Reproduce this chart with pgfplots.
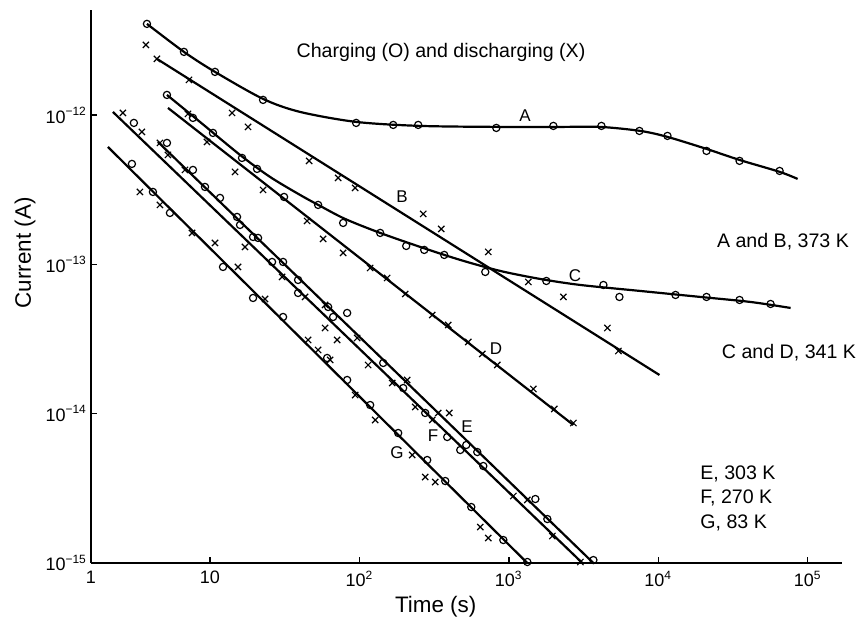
\documentclass[border=0pt]{standalone}
\usepackage{fontspec}
\setmainfont{Liberation Sans}
\usepackage{pgfplots}
\pgfplotsset{compat=1.18}
\begin{document}
\begin{tikzpicture}
\begin{axis}[
  name=ax,
  scale only axis,
  width=375.5pt, height=276.5pt,
  xmode=log, ymode=log,
  xmin=1.598, xmax=169800,
  ymin=1e-15, ymax=5.06e-12,
  axis x line*=bottom, axis y line*=left,
  axis line style={line width=0.8pt,-},
  every tick/.style={line width=0.7pt, black},
  major tick length=3pt,
  xminorticks=false, yminorticks=false,
  xtick={10,100,1000,10000,100000},
  xticklabels={10,10\textsuperscript{2},10\textsuperscript{3},10\textsuperscript{4},10\textsuperscript{5}},
  extra x ticks={1.598}, extra x tick labels={1},
  extra x tick style={major tick length=0pt},
  ytick={1e-15,1e-14,1e-13,1e-12},
  yticklabels={10\textsuperscript{−15},10\textsuperscript{−14},10\textsuperscript{−13},10\textsuperscript{−12}},
  ticklabel style={font=\fontsize{9}{10}\selectfont},
  yticklabel style={inner sep=1.5pt},
  xlabel={Time (s)}, ylabel={Current (A)},
  label style={font=\fontsize{11.2}{13}\selectfont},
  xlabel style={at={(axis description cs:0.459,-0.0796)}, anchor=center},
  ylabel style={at={(axis description cs:-0.0879,0.561)}, anchor=center},
  clip=false,
  line width=1.1pt,
  circ/.style={only marks, mark=o, mark size=1.8pt, mark options={line width=0.6pt}, black},
  cross/.style={only marks, mark=x, mark size=2.2pt, mark options={line width=0.6pt}, black},
  curve/.style={no marks, black, line width=1.1pt},
]
% Curve A (charging, 373 K)
\addplot[curve, smooth] coordinates {(3.785,4.086e-12) (6.696,2.653e-12) (10.80,1.949e-12) (22.65,1.285e-12) (40.09,1.051e-12) (95.1,9.01e-13) (255.3,8.47e-13) (877.0,8.34e-13) (2213,8.34e-13) (4102,8.34e-13) (7603,7.84e-13) (11533,7.15e-13) (21050,5.94e-13) (35030,5.01e-13) (64940,4.17e-13) (85680,3.74e-13)};
\addplot[circ] coordinates {(3.785,4.086e-12) (6.696,2.653e-12) (10.80,1.949e-12) (22.65,1.265e-12) (95.1,8.87e-13) (168.3,8.60e-13) (247.4,8.60e-13) (824.6,8.21e-13) (1987,8.47e-13) (4166,8.47e-13) (7485,7.84e-13) (11533,7.26e-13) (21050,5.76e-13) (35030,4.94e-13) (64940,4.23e-13)};
% Curve B (discharging, 373 K)
\addplot[curve] coordinates {(4.415,2.381e-12) (10190,1.818e-14)};
\addplot[cross] coordinates {(3.725,2.955e-12) (4.415,2.381e-12) (7.233,1.722e-12) (14.05,1.035e-12) (17.97,8.341e-13) (46.06,4.936e-13) (72.04,3.797e-13) (93.65,3.254e-13) (267.4,2.180e-13) (352.9,1.729e-13) (728.7,1.213e-13) (2318,6.057e-14) (4570,3.754e-14) (5415,2.633e-14)};
% Curve C (charging, 341 K)
\addplot[curve, smooth] coordinates {(5.151,1.366e-12) (8.570,9.010e-13) (15.89,5.415e-13) (25.23,3.857e-13) (40.09,2.921e-13) (54.58,2.466e-13) (80.26,2.017e-13) (137.7,1.626e-13) (255.3,1.310e-13) (473.2,1.072e-13) (877.0,9.045e-14) (1626,7.992e-14) (3013,7.287e-14) (7603,6.643e-14) (19190,6.057e-14) (41500,5.606e-14) (76910,5.111e-14)};
\addplot[circ] coordinates {(5.151,1.366e-12) (7.692,9.583e-13) (10.47,7.603e-13) (16.38,5.169e-13) (20.65,4.363e-13) (52.92,2.504e-13) (77.82,1.897e-13) (137.7,1.626e-13) (205.7,1.330e-13) (271.5,1.251e-13) (369.6,1.158e-13) (695.8,8.907e-14) (1783,7.751e-14) (4296,7.287e-14) (5499,6.057e-14) (13050,6.246e-14) (21050,6.057e-14) (35030,5.781e-14) (56490,5.436e-14)};
% Curve D (discharging, 341 K)
\addplot[curve] coordinates {(5.232,1.118e-12) (2705,8.407e-15)};
\addplot[cross] coordinates {(7.122,1.019e-12) (9.548,6.618e-13) (14.71,4.166e-13) (22.65,3.156e-13) (44.66,1.956e-13) (57.16,1.482e-13) (77.82,1.194e-13) (118.0,9.473e-14) (153.4,8.119e-14) (202.5,6.343e-14) (307.2,4.587e-14) (393.2,3.932e-14) (535.3,3.025e-14) (664.3,2.514e-14) (837.4,2.121e-14) (1459,1.465e-14) (2017,1.076e-14) (2705,8.670e-15) (1351,7.634e-14)};
\addplot[circ] coordinates {(31.32,2.832e-13)};
% Curves E, F, G
\addplot[curve] coordinates {(4.481,6.618e-13) (3682,1e-15)};
\addplot[curve] coordinates {(2.239,1.051e-12) (3107,1e-15)};
\addplot[curve] coordinates {(2.073,6.127e-13) (1330,1e-15)};
\addplot[circ] coordinates {(3.095,8.87e-13) (5.151,6.516e-13) (3.002,4.713e-13) (4.151,3.059e-13) (5.395,2.213e-13) (7.692,4.296e-13) (9.259,3.305e-13) (11.67,2.790e-13) (15.17,2.081e-13) (15.89,1.839e-13) (19.42,1.528e-13) (20.97,1.505e-13) (12.22,9.620e-14) (26.03,1.039e-13) (30.84,1.039e-13) (38.87,7.873e-14) (38.87,6.442e-14) (61.75,5.190e-14) (66.69,4.448e-14) (82.78,4.732e-14) (19.42,5.964e-14) (30.84,4.448e-14) (60.80,2.363e-14) (144.3,2.188e-14) (82.78,1.683e-14) (118.0,1.144e-14) (181.8,7.430e-15) (196.4,1.487e-14) (275.7,1.012e-14) (284.3,4.898e-15) (375.4,3.543e-15) (560.7,2.372e-15) (918.9,1.426e-15) (1330,1.016e-15) (387.1,6.986e-15) (473.2,5.716e-15) (519.0,6.175e-15) (615.0,5.541e-15) (674.7,4.466e-15) (1505,2.684e-15) (1811,1.971e-15) (3682,1.047e-15)};
\addplot[cross] coordinates {(2.613,1.035e-12) (3.503,7.722e-13) (4.624,6.516e-13) (5.232,5.415e-13) (3.396,3.059e-13) (4.624,2.504e-13) (7.576,1.626e-13) (10.80,1.393e-13) (15.40,9.620e-14) (6.800,4.296e-13) (17.16,1.310e-13) (23.36,5.872e-14) (30.37,8.245e-14) (43.30,6.057e-14) (58.95,5.353e-14) (58.95,3.754e-14) (70.94,3.120e-14) (96.58,3.217e-14) (45.36,3.120e-14) (52.92,2.674e-14) (63.68,2.292e-14) (114.4,2.121e-14) (93.65,1.335e-14) (127.5,9.080e-15) (165.8,1.607e-14) (208.9,1.683e-14) (236.3,1.110e-14) (307.2,9.080e-15) (337.0,1.012e-14) (399.3,1.012e-14) (225.6,5.292e-15) (275.7,3.768e-15) (321.7,3.489e-15) (644.2,1.742e-15) (728.7,1.471e-15) (1072,2.811e-15) (1330,2.643e-15) (1956,1.517e-15) (3013,1.016e-15)};
\end{axis}
\begin{scope}[shift={(ax.south west)}, xshift=-45.5pt, yshift=281.5pt, x=0.5pt, y=-0.5pt]
  \pgfresetboundingbox
  \path[use as bounding box] (0,0) rectangle (859,623);
  \begin{scope}[every node/.style={font=\fontsize{9.8}{12.25}\selectfont, inner sep=0pt}]
    \node at (441,52) {Charging (O) and discharging (X)};
    \node at (783,242) {A and B, 373 K};
    \node at (789,353) {C and D, 341 K};
    \node[anchor=west, align=left] at (700,498) {E, 303 K\\F, 270 K\\G, 83 K};
  \end{scope}
  \begin{scope}[every node/.style={font=\fontsize{8.5}{10}\selectfont, inner sep=0pt}]
    \node at (525,116) {A};
    \node at (402,197) {B};
    \node at (575,276) {C};
    \node at (496,349) {D};
    \node at (467,427) {E};
    \node at (433,436) {F};
    \node at (397,453) {G};
  \end{scope}
\end{scope}
\end{tikzpicture}
\end{document}
